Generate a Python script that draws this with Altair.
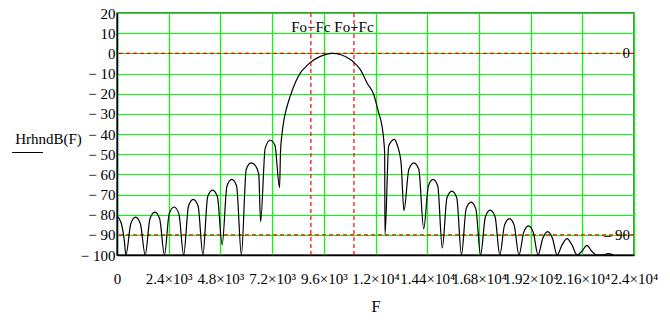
import json
import altair as alt
import pandas as pd

# ---- curve values (F in Hz, level in dB) ----
left_F = [0, 190, 330, 416, 640, 862, 1085, 1309, 1530, 1755, 1980, 2202,
          2425, 2650, 2870, 3095, 3320, 3540, 3765, 3988, 4210, 4435, 4660, 4881,
          5105, 5330, 5550, 5774, 6000, 6220, 6445, 6580, 6667, 6880, 7110, 7330, 7546]
left_dB = [-80.7, -84, -92, -100, -84.5, -81.2, -84.5, -100, -82, -78.7, -82, -100,
           -79.5, -76.2, -79.5, -100, -75.7, -72.4, -75.7, -100, -71, -67.8, -71, -95,
           -65.8, -62.5, -65.8, -100, -57.5, -54.3, -56, -60, -83.5, -47, -43.1, -45.5, -66.6]

main_F = [7590, 7660, 7750, 7840, 8050, 8300, 8513, 8750, 8978, 9442, 10000,
          10370, 10834, 10958, 11298, 11608, 11917, 12148, 12303, 12380, 12426]
main_dB = [-49, -40, -33, -28.5, -21, -14, -9.7, -6.8, -4.5, -1.5, 0,
           -0.6, -3.1, -4.1, -8.1, -14.7, -20.4, -29.5, -36.1, -42.7, -50]

right_F = [12440, 12612, 12875, 13001, 13187, 13320, 13550, 13780, 14010, 14237,
           14455, 14670, 14890, 15100, 15320, 15545, 15770, 15990, 16210, 16435,
           16655, 16880, 17100, 17325, 17550, 17770, 17990, 18215, 18435, 18660,
           18880, 19100, 19325, 19546, 19770, 19990, 20210, 20430, 20660, 20890,
           21120, 21357, 21590, 21810, 22030, 22260, 22560, 22800, 23050]
right_dB = [-90, -46, -42.7, -45.2, -54.3, -78, -57.5, -54.3, -57.5, -87,
            -65.8, -62.5, -65.8, -96.5, -71.5, -68.3, -71.5, -100, -77, -73.8,
            -77, -100, -81, -77.7, -81, -100, -85.2, -82, -85.2, -100,
            -88.8, -85.6, -88.8, -100, -91.6, -88.4, -91.6, -100, -95, -91.9,
            -95, -100, -98, -95.2, -98, -100, -100, -99.3, -100]

# ---- markers ----
hmark_dB = [0, -90]
hmark_labels = ["0", "– 90"]
vmark_F = [9000, 11000]
vmark_labels = ["Fo−Fc", "Fo+Fc"]

# ---- axes ----
x_tick_values = [0, 2400, 4800, 7200, 9600, 12000, 14400, 16800, 19200, 21600, 24000]
x_tick_labels = ["0", "2.4×10³", "4.8×10³", "7.2×10³", "9.6×10³", "1.2×10⁴",
                 "1.44×10⁴", "1.68×10⁴", "1.92×10⁴", "2.16×10⁴", "2.4×10⁴"]
y_tick_values = [20, 10, 0, -10, -20, -30, -40, -50, -60, -70, -80, -90, -100]

FONT = "Liberation Serif"
GRID = "#00ff00"

curve = pd.DataFrame({"F": left_F + main_F + right_F,
                      "dB": left_dB + main_dB + right_dB})
hmark = pd.DataFrame({"dB": hmark_dB, "label": hmark_labels})
vmark = pd.DataFrame({"F": vmark_F, "label": vmark_labels})

x_scale = alt.Scale(domain=[0, 24000], nice=False, zero=False)
y_scale = alt.Scale(domain=[-100, 20], nice=False, zero=False)

x_label_expr = (json.dumps(x_tick_labels, ensure_ascii=False)
                + "[indexof(" + json.dumps(x_tick_values) + ", datum.value)]")

x_axis = alt.Axis(values=x_tick_values, labelExpr=x_label_expr, grid=True,
                  gridColor=GRID, gridWidth=1.2, ticks=False, tickSize=0,
                  domainColor="black", domainWidth=1.5,
                  labelFont=FONT, labelFontSize=15, labelColor="black",
                  labelPadding=16, labelOverlap=False, labelFlush=False, labelBound=False,
                  title="F", titleFont=FONT, titleFontSize=16, titleFontWeight="normal",
                  titleColor="black", titleBaseline="alphabetic", titleY=56)

y_axis = alt.Axis(values=y_tick_values,
                  labelExpr="datum.value < 0 ? '− ' + abs(datum.value) : '' + datum.value",
                  grid=True, gridColor=GRID, gridWidth=1.2, ticks=False, tickSize=0,
                  domainColor="black", domainWidth=1.5,
                  labelFont=FONT, labelFontSize=15, labelColor="black", labelPadding=2,
                  labelOverlap=False, labelBound=False, labelFlush=False,
                  title="HrhndB(F)", titleFont=FONT, titleFontSize=15,
                  titleFontWeight="normal", titleColor="black", titleAngle=0,
                  titleAlign="center", titleBaseline="alphabetic", titleX=-69, titleY=130)


def X(field="F:Q"):
    return alt.X(field, scale=x_scale, axis=x_axis)


def Y(field="dB:Q"):
    return alt.Y(field, scale=y_scale, axis=y_axis)


base_grid = alt.Chart(curve).mark_point(opacity=0).encode(x=X(), y=Y())

hrules = alt.Chart(hmark).mark_rule(color="red", strokeDash=[4, 3], strokeWidth=1.2).encode(
    y=Y()
)
vrules = alt.Chart(vmark).mark_rule(color="red", strokeDash=[4, 3], strokeWidth=1.2).encode(
    x=X()
)

line = alt.Chart(curve).mark_line(color="black", strokeWidth=1.2, interpolate="monotone",
                                  clip=True).encode(x=X(), y=Y())

htext = alt.Chart(hmark).mark_text(align="right", baseline="middle", font=FONT,
                                   fontSize=15, color="black").encode(
    x=alt.value(513),
    y=Y(),
    text="label:N",
)
vtext = alt.Chart(vmark).mark_text(align="center", baseline="middle", font=FONT,
                                   fontSize=15, color="black").encode(
    x=X(),
    y=alt.value(14),
    text="label:N",
)

underline = alt.Chart(pd.DataFrame({"k": [0]})).mark_rule(color="black", strokeWidth=1).encode(
    x=alt.value(-105), x2=alt.value(-74), y=alt.value(139.5)
)

chart = alt.layer(base_grid, hrules, vrules, line, htext, vtext, underline).properties(
    width=517, height=242,
    padding={"left": 117, "top": 13, "right": 36, "bottom": 73},
    autosize=alt.AutoSizeParams(type="none"),
    background="white",
).configure_view(stroke="#444", strokeWidth=1.5)

chart.save("out.html", embed_options={"renderer": "svg", "actions": False})
